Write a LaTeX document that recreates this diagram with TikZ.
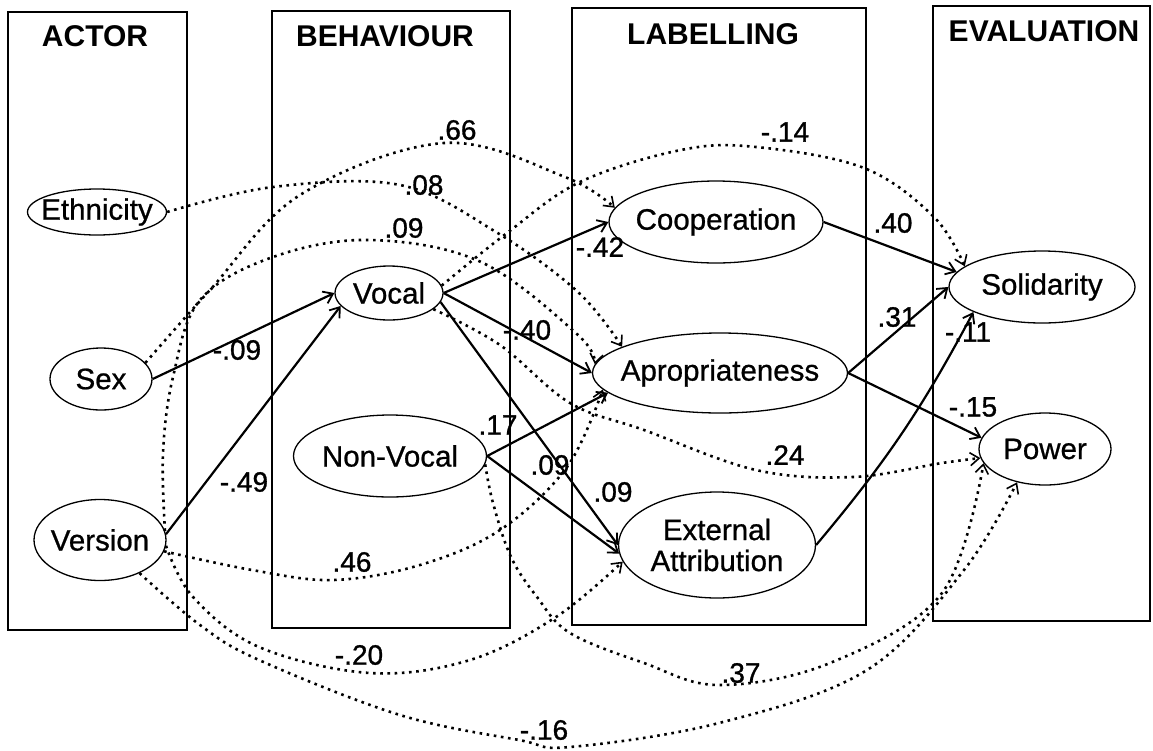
\documentclass[tikz,border=0pt]{standalone}
\usepackage{fontspec}
\setmainfont{Liberation Sans}
\usetikzlibrary{shapes.geometric,arrows.meta}
\begin{document}
\begin{tikzpicture}[x=1pt,y=-1pt,
  ell/.style={draw,ellipse,line width=1.3pt,inner sep=0pt},
  lbl/.style={font=\addfontfeature{FakeBold=0.8}\fontsize{29.5}{31}\selectfont},
  ttl/.style={font=\bfseries\fontsize{30}{32}\selectfont,inner sep=0pt},
  num/.style={font=\addfontfeature{FakeBold=1}\fontsize{28}{30}\selectfont,inner sep=0pt},
  box/.style={draw,line width=1.5pt},
  sarrow/.style={line width=2.2pt,-{Straight Barb[length=9pt,width=13pt,line width=1.8pt]}},
  darrow/.style={line width=2.6pt,dash pattern=on 2.6pt off 4.6pt,-{Straight Barb[length=9pt,width=13pt,line width=1.6pt]}},
]
\useasboundingbox (0,0) rectangle (1153,750);
% column boxes
\draw[box] (8,12) rectangle (187,630);
\draw[box] (272,11) rectangle (510,628);
\draw[box] (572,8) rectangle (866,625);
\draw[box] (933,6) rectangle (1150,621);
\node[ttl] (tA) at (95,36) {ACTOR};
\node[ttl] (tB) at (385,36) {BEHAVIOUR};
\node[ttl] (tL) at (713,34) {LABELLING};
\node[ttl] (tE) at (1044,31) {EVALUATION};
% nodes
\node[ell,minimum width=139pt,minimum height=46pt,label={[lbl]center:Ethnicity}] (eth) at (97,212) {};
\node[ell,minimum width=102pt,minimum height=62pt,label={[lbl]center:Sex}] (sex) at (101,379) {};
\node[ell,minimum width=132pt,minimum height=81pt,label={[lbl]center:Version}] (ver) at (100,540) {};
\node[ell,minimum width=108pt,minimum height=54pt,label={[lbl]center:Vocal}] (voc) at (389,293) {};
\node[ell,minimum width=193pt,minimum height=82pt,label={[lbl]center:Non-Vocal}] (nv) at (390,456) {};
\node[ell,minimum width=214pt,minimum height=82pt,label={[lbl]center:Cooperation}] (coop) at (716,222) {};
\node[ell,minimum width=255pt,minimum height=80pt,label={[lbl]center:Apropriateness}] (apr) at (720,373) {};
\node[ell,minimum width=197pt,minimum height=106pt,label={[lbl,align=center]center:External\\Attribution}] (ext) at (717,545) {};
\node[ell,minimum width=186pt,minimum height=72pt,label={[lbl]center:Solidarity}] (sol) at (1042,287) {};
\node[ell,minimum width=132pt,minimum height=72pt,label={[lbl]center:Power}] (pow) at (1045,449) {};
% solid paths
\draw[sarrow] (sex.east) -- (voc.west);
\draw[sarrow] (ver.5) -- (voc.195);
\draw[sarrow] (voc.east) -- (coop.west);
\draw[sarrow] (voc.east) -- (apr.west);
\draw[sarrow] (voc.-10) -- (ext.west);
\draw[sarrow] (nv.east) -- (apr.190);
\draw[sarrow] (nv.east) -- (ext.185);
\draw[sarrow] (coop.east) -- (sol.170);
\draw[sarrow] (apr.east) -- (sol.west);
\draw[sarrow] (apr.east) -- (pow.170);
\draw[sarrow] (ext.east) to[bend right=6] (sol.200);
% dotted paths
\draw[darrow] plot[smooth,tension=0.6] coordinates {(sex.20) (210,290) (300,195) (444,143) (565,177) (coop.172)};
\draw[darrow] plot[smooth,tension=0.6] coordinates {(eth.east) (273,187) (400,185) (496,232) (578,292) (apr.165)};
\draw[darrow] plot[smooth,tension=0.6] coordinates {(ver.8) (163,453) (173,377) (200,300) (273,257) (370,240) (481,262) (578,335) (apr.176)};
\draw[darrow] plot[smooth,tension=0.6] coordinates {(voc.8) (507,233) (580,182) (681,150) (756,147) (864,168) (934,217) (sol.165)};
\draw[darrow] plot[smooth,tension=0.6] coordinates {(voc.-20) (500,345) (570,403) (644,430) (756,470) (853,477) (942,463) (pow.188)};
\draw[darrow] plot[smooth,tension=0.6] coordinates {(ver.-10) (252,570) (333,580) (420,565) (500,530) (567,467) (apr.188)};
\draw[darrow] plot[smooth,tension=0.6] coordinates {(ver.-5) (193,597) (259,647) (370,673) (470,660) (556,617) (ext.190)};
\draw[darrow] plot[smooth,tension=0.6] coordinates {(nv.-5) (493,503) (511,557) (537,597) (570,633) (644,663) (719,685) (830,663) (942,593) (pow.193)};
\draw[darrow] plot[smooth,tension=0.6] coordinates {(ver.-40) (200,625) (259,660) (400,715) (519,740) (570,747) (719,723) (867,670) (964,570) (pow.230)};
% labels
\node[num] (l1) at (237,350) {-.09};
\node[num] (l2) at (244,482) {-.49};
\node[num] (l3) at (600,247) {-.42};
\node[num] (l4) at (527,330) {-.40};
\node[num] (l5) at (498,425) {.17};
\node[num] (l6) at (550,465) {.09};
\node[num] (l7) at (613,492) {.09};
\node[num] (l8) at (893,223) {.40};
\node[num] (l9) at (897,317) {.31};
\node[num] (l10) at (968,332) {-.11};
\node[num] (l11) at (973,407) {-.15};
\node[num] (d1) at (457,130) {.66};
\node[num] (d2) at (424,185) {.08};
\node[num] (d3) at (404,228) {.09};
\node[num] (d4) at (785,132) {-.14};
\node[num] (d5) at (785,455) {.24};
\node[num] (d6) at (352,562) {.46};
\node[num] (d7) at (359,655) {-.20};
\node[num] (d8) at (741,673) {.37};
\node[num] (d9) at (544,730) {-.16};
\end{tikzpicture}
\end{document}
